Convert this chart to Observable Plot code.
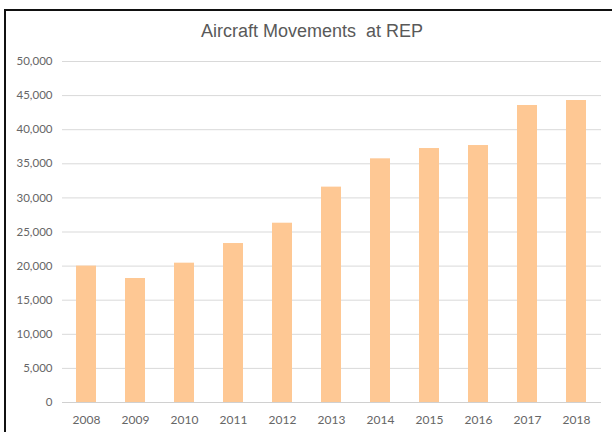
<!DOCTYPE html>
<html>
<head>
<meta charset="utf-8">
<script src="https://cdn.jsdelivr.net/npm/d3@7"></script>
<script src="https://cdn.jsdelivr.net/npm/@observablehq/plot@0.6"></script>
<style>
  html, body { margin: 0; padding: 0; background: #fff; overflow: hidden; }
  #wrap { position: relative; width: 612px; height: 432px; }
  #frame { position: absolute; left: 4px; top: 9px; width: 700px; height: 500px;
           border-left: 2.5px solid #111; border-top: 2.5px solid #111; }
  #title { position: absolute; left: 0; top: 21px; width: 624px; text-align: center;
           font-family: "Liberation Sans", Arial, sans-serif; font-size: 18px; color: #595959; white-space: pre; }
  #chart { position: absolute; left: 0; top: 0; }
</style>
</head>
<body>
<div id="wrap">
  <div id="frame"></div>
  <div id="title">Aircraft Movements  at REP</div>
  <div id="chart"></div>
</div>
<script>
const years = ["2008","2009","2010","2011","2012","2013","2014","2015","2016","2017","2018"];
const movements = [20000, 18180, 20430, 23310, 26290, 31580, 35730, 37240, 37680, 43550, 44280];
const yTicks = [0, 5000, 10000, 15000, 20000, 25000, 30000, 35000, 40000, 45000, 50000];

const data = years.map((y, i) => ({year: y, value: movements[i]}));

const chart = Plot.plot({
  width: 612,
  height: 432,
  marginLeft: 62,
  marginRight: 11,
  marginTop: 61,
  marginBottom: 30,
  style: {fontFamily: "Lato, 'Open Sans', sans-serif", fontSize: "11.5px", color: "#595959", background: "transparent"},
  x: {domain: years, paddingInner: 0.59, paddingOuter: 0.295, label: null},
  y: {domain: [0, 50000], label: null},
  marks: [
    Plot.gridY(yTicks, {stroke: "#d9d9d9", strokeOpacity: 1, strokeWidth: 1}),
    Plot.barY(data, {x: "year", y: "value", fill: "#FEC894"}),
    Plot.ruleY([0], {stroke: "#d0d0d0", strokeWidth: 1}),
    Plot.axisY({ticks: yTicks, tickFormat: d3.format(","), tickSize: 0, tickPadding: 10, label: null, fill: "#666", fontSize: 11.5}),
    Plot.axisX({tickSize: 0, tickPadding: 13, label: null, fill: "#666", fontSize: 12})
  ]
});
document.getElementById("chart").appendChild(chart);
</script>
</body>
</html>
